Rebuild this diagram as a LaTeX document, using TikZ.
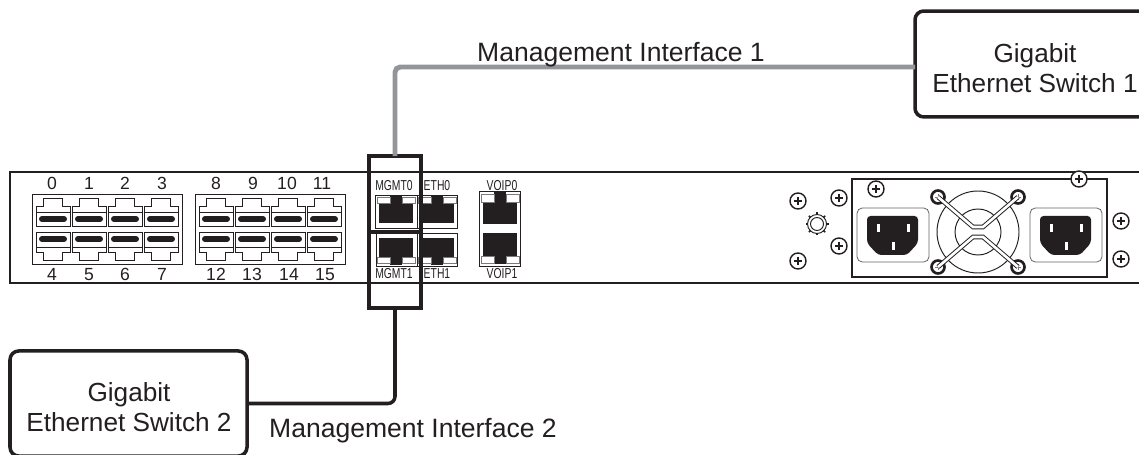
\documentclass[tikz,border=0pt]{standalone}
\usepackage{fontspec}
\setmainfont{Liberation Sans}
\newfontfamily\narrowfont[FakeStretch=0.72]{Liberation Sans}
\definecolor{ink}{HTML}{231F20}
\definecolor{cablegray}{HTML}{939598}
\tikzset{
	swbox/.style={draw=ink, line width=2pt, rounded corners=5pt, outer sep=0pt, inner sep=0pt},
	swtext/.style={align=center, text=ink, font=\fontsize{14.9}{17}\selectfont},
	ifacetext/.style={text=ink, font=\fontsize{15.1}{17}\selectfont, anchor=base},
	numtext/.style={text=ink, font=\fontsize{10}{11}\selectfont, inner sep=0pt},
	porttext/.style={text=ink, font=\narrowfont\fontsize{8.2}{9}\selectfont, inner sep=0pt},
	thin line/.style={draw=ink, line width=0.55pt}
}
\def\screw(#1,#2){
	\draw[line width=0.8pt, draw=ink, fill=white] (#1,#2) circle (8);
	\draw[line width=0.9pt, draw=ink] (#1-4,#2) -- (#1+4,#2) (#1,#2-4) -- (#1,#2+4);
}
\def\socket(#1){
	\draw[draw=ink!70, line width=0.45pt, rounded corners=3pt] (#1,208) rectangle (#1+72,262);
	\fill[ink, rounded corners=2pt] (#1+10,216) -- (#1+61,216) -- (#1+61,243) -- (#1+50,255) -- (#1+21,255) -- (#1+10,243) -- cycle;
	\fill[white] (#1+20,224) rectangle (#1+23,232);
	\fill[white] (#1+50,224) rectangle (#1+53,232);
	\fill[white] (#1+35,242) rectangle (#1+38,250);
}

\begin{document}
\begin{tikzpicture}[x=0.02cm, y=-0.02cm]
	\useasboundingbox (0,0) rectangle (1139,455);
	\clip (0,0) rectangle (1139,455);
	
	% chassis
	\draw[ink, line width=1.5pt] (1150,172) -- (10,172) -- (10,283) -- (1150,283);
	
	% numbered ports
	\draw[thin line] (32,194) rectangle (182,264);
	\draw[thin line] (195,194) rectangle (345,264);
	\foreach \x in {36,72,108,144,199,235,271,307}{
		\begin{scope}[shift={(\x,0)}]
			\draw[thin line] (0,226) -- (0,206) -- (7.3,206) -- (7.3,198) -- (26.3,198) -- (26.3,206) -- (34,206) -- (34,226) -- cycle;
			\draw[thin line] (0,212) -- (34,212);
			\draw[ink, line width=3.4pt, line cap=round] (6,219) -- (28,219);
			\draw[thin line] (0,232) -- (34,232) -- (34,252) -- (26.3,252) -- (26.3,260) -- (7.3,260) -- (7.3,252) -- (0,252) -- cycle;
			\draw[thin line] (0,247) -- (34,247);
			\draw[ink, line width=3.4pt, line cap=round] (6,239) -- (28,239);
		\end{scope}
	}
	\foreach \x/\n in {52/0,89/1,125/2,162/3,216/8,253/9,287/10,322/11}
		\node[numtext] (top\n) at (\x,183.5) {\n};
	\foreach \x/\n in {52/4,89/5,125/6,162/7,216/12,252/13,289/14,325/15}
		\node[numtext] (bot\n) at (\x,274.5) {\n};
	
	% network ports
	\draw[thin line] (375,195) rectangle (417,228);
	\draw[thin line] (417,195) rectangle (457,228);
	\draw[thin line] (376,233) rectangle (417,266);
	\draw[thin line] (417,233) rectangle (457,266);
	\draw[thin line] (479,191) rectangle (520,266);
	\foreach \x/\ya/\yb/\yt/\yr in {379/203/223/196/197,420/203/223/196/197,379/257/238/265/263,420/257/238/265/263,483/202/224/192/194,483/256/233/264/263}{
		\fill[ink] (\x,\ya) rectangle ({\x+34},\yb);
		\fill[ink] ({\x+11},\ya) rectangle ({\x+23},\yt);
		\draw[draw=ink!60, line width=0.4pt, fill=white] ({\x-2},\ya) rectangle ({\x+11},\yr);
		\draw[draw=ink!60, line width=0.4pt, fill=white] ({\x+23},\ya) rectangle ({\x+36},\yr);
	}
	\node[porttext] (mgmt0) at (394,186) {MGMT0};
	\node[porttext] (eth0) at (437,186) {ETH0};
	\node[porttext] (voip0) at (502,185.5) {VOIP0};
	\node[porttext] (mgmt1) at (394,274) {MGMT1};
	\node[porttext] (eth1) at (437,274) {ETH1};
	\node[porttext] (voip1) at (502,274) {VOIP1};
	
	% power supply
	\draw[ink, line width=0.8pt] (852,179) rectangle (1107,277);
	\socket(857)
	\socket(1030)
	\draw[thin line] (978,232) circle (41);
	\draw[thin line] (978,232) circle (23);
	\foreach \x/\y in {938/197,1018/197,938/267,1018/267}{
		\draw[ink, line width=1.5pt, fill=white] (\x,\y) circle (6.5);
		\draw[ink!60, line width=0.5pt] (\x-3,\y) -- (\x+3,\y) (\x,\y-3) -- (\x,\y+3);
	}
	\draw[ink, line width=0.55pt, double=white, double distance=1.5pt] (938,197) -- (973,227) -- (983,227) -- (1018,197);
	\draw[ink, line width=0.55pt, double=white, double distance=1.5pt] (938,267) -- (973,237) -- (983,237) -- (1018,267);
	
	% screws and nut
	\screw(798,201)
	\screw(839,198)
	\screw(839,246)
	\screw(798,261)
	\screw(876,189)
	\screw(1079,179)
	\screw(1121,221)
	\screw(1121,259)
	\foreach \a in {0,45,...,315}
		\draw[ink, line width=0.9pt] (817,224) ++(\a:9) -- ++(\a:2.5);
	\draw[thin line] (817,224) circle (9.5);
	\draw[thin line] (817,224) circle (6.5);
	
	% switches and cables
	\node[swbox, minimum width=136.6pt, minimum height=60.3pt] (sw1) at (1035,64) {};
	\node[swtext] (sw1text) at (1035,68) {Gigabit\\Ethernet Switch 1};
	\node[swbox, minimum width=134.9pt, minimum height=59.8pt] (sw2) at (128.5,403.5) {};
	\node[swtext] (sw2text) at (129,407) {Gigabit\\Ethernet Switch 2};
	\node[draw=ink, line width=2.2pt, minimum width=29.6pt, minimum height=86.5pt, outer sep=0pt, inner sep=0pt] (mgmtbox) at (395,232) {};
	\draw[ink, line width=2.2pt] (mgmtbox.west) -- (mgmtbox.east);
	\draw[cablegray, line width=2.8pt, rounded corners=3pt] ([yshift=-1.7pt]sw1.west) -| (mgmtbox.north);
	\draw[ink, line width=2pt, rounded corners=4pt] (sw2.east) -| (mgmtbox.south);
	\node[ifacetext] (iface1) at (621,62) {Management Interface 1};
	\node[ifacetext] (iface2) at (413,438) {Management Interface 2};
\end{tikzpicture}
\end{document}
